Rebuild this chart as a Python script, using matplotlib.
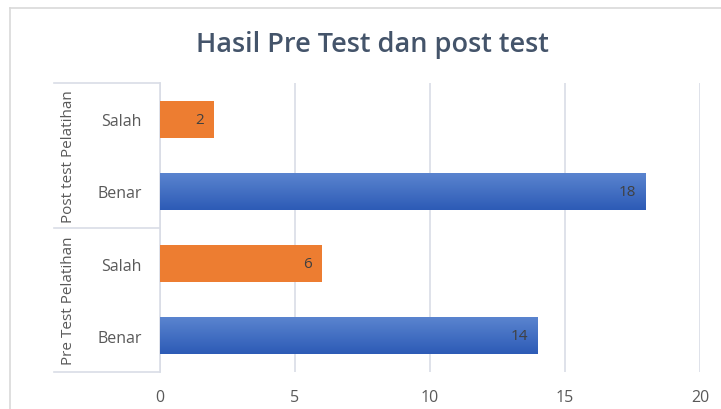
import numpy as np
import matplotlib.pyplot as plt
from matplotlib.lines import Line2D
from matplotlib.colors import LinearSegmentedColormap

# data
groups = ['Pre Test Pelatihan', 'Post test Pelatihan']
categories = ['Benar', 'Salah', 'Benar', 'Salah']
values = [14, 6, 18, 2]
bar_colors = ['#3B68C2', '#ED7D31', '#3B68C2', '#ED7D31']
xticks = [0, 5, 10, 15, 20]

plt.rcParams['font.family'] = ['Open Sans', 'DejaVu Sans']
text_col = '#595959'
grid_col = '#D9DDE6'

fig = plt.figure(figsize=(7.21, 4.10), dpi=100)
ax = fig.add_axes([160 / 721, 1 - 373 / 410, 540 / 721, 289 / 410])

pos = list(range(len(values)))
bars = ax.barh(pos, values, height=0.51, color=bar_colors, zorder=3)

# blue bars get the light-to-dark fill like the original
blue_cmap = LinearSegmentedColormap.from_list('blu', ['#2D5BB6', '#5A84CF'])
grad = np.linspace(0, 1, 64).reshape(-1, 1)
for b, c in zip(bars, bar_colors):
    if c == '#3B68C2':
        b.set_facecolor('none')
        ax.imshow(grad, cmap=blue_cmap, origin='lower', aspect='auto', zorder=3,
                  extent=[0, b.get_width(), b.get_y(), b.get_y() + b.get_height()])

for b, v in zip(bars, values):
    ax.annotate(str(v), (b.get_width(), b.get_y() + b.get_height() / 2),
                xytext=(-7, 0), textcoords='offset points', ha='right', va='center',
                fontsize=11, color='#404040', zorder=4)

ax.set_xlim(0, 20)
ax.set_ylim(-0.5, len(values) - 0.5)
ax.set_xticks(xticks)
ax.set_xticklabels([str(t) for t in xticks])
ax.set_yticks(pos)
ax.set_yticklabels(categories)
ax.tick_params(axis='both', length=0, labelsize=11.5, colors=text_col)
ax.tick_params(axis='x', pad=12)
ax.tick_params(axis='y', pad=13)
ax.xaxis.grid(True, color=grid_col, linewidth=1.2, zorder=0)
for s in ['top', 'right', 'bottom']:
    ax.spines[s].set_visible(False)
ax.spines['left'].set_color(grid_col)
ax.spines['left'].set_linewidth(1.2)

# group brackets on the category axis
for y in [-0.5, 1.5, 3.5]:
    ax.add_line(Line2D([-106 / 540, 0], [y, y], transform=ax.get_yaxis_transform(),
                       color=grid_col, linewidth=1.2, clip_on=False))
for i, g in enumerate(groups):
    ax.text(-91 / 540, 2 * i + 0.5, g, transform=ax.get_yaxis_transform(),
            rotation=90, ha='center', va='center', fontsize=11, color=text_col)

# chart border
fig.add_artist(Line2D([10 / 721, 1], [1 - 9 / 410, 1 - 9 / 410], color='#D9D9D9', linewidth=1.2))
fig.add_artist(Line2D([10 / 721, 10 / 721], [0, 1 - 9 / 410], color='#D9D9D9', linewidth=1.2))

fig.text(372 / 721, 1 - 45 / 410, 'Hasil Pre Test dan post test', ha='center', va='center',
         fontsize=19.5, fontweight='semibold', color='#44546A')

fig.savefig('out.png', dpi=100)
